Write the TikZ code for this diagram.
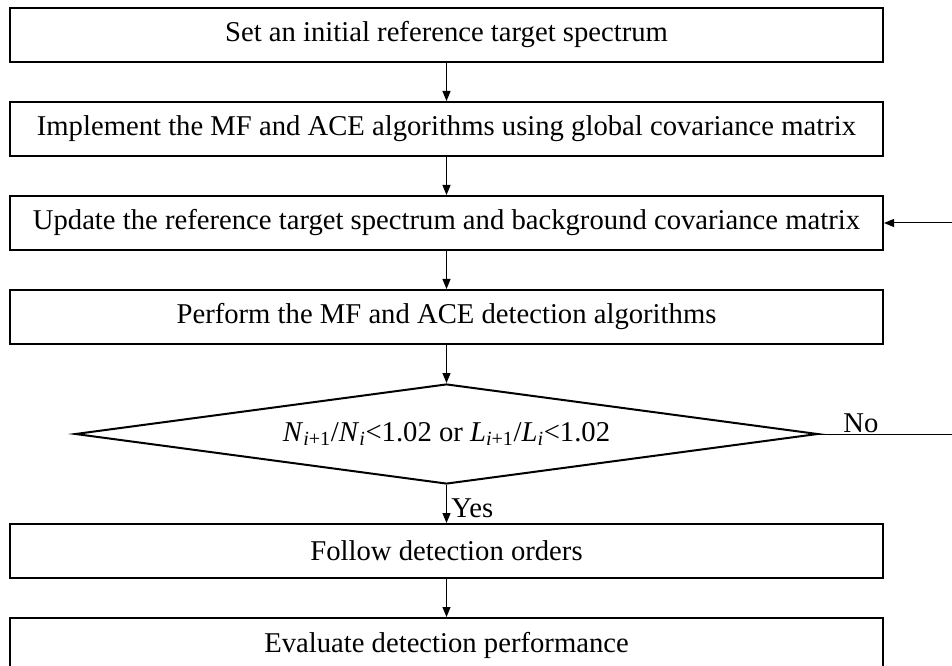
\documentclass[tikz,border=0pt]{standalone}
\usepackage{fontspec}
\setmainfont{Liberation Serif}
\usepackage{tikz}
\usetikzlibrary{shapes,arrows.meta,positioning,calc}

\begin{document}
\begin{tikzpicture}[
    x=0.75pt, y=-0.75pt,
    node distance=28.5pt,
    font=\fontsize{21.5}{24}\selectfont,
    block/.style={rectangle, draw, line width=1.5pt, minimum width=654.75pt, minimum height=40.5pt, inner sep=0pt, text centered},
    decision/.style={diamond, draw, line width=1.5pt, aspect=7.3, minimum width=557pt, minimum height=75pt, inner sep=0pt},
    arrow/.style={-{Triangle[length=7.5pt,width=6pt]}, line width=0.75pt}
]
\useasboundingbox (0,0) rectangle (952,666);
\node[block] (init) at (446.5,35) {Set an initial reference target spectrum};
\node[block, below=of init] (global) {Implement the MF and ACE algorithms using global covariance matrix};
\node[block, below=of global] (update) {Update the reference target spectrum and background covariance matrix};
\node[block, below=of update] (perform) {Perform the MF and ACE detection algorithms};
\node[decision, below=of perform] (check) {\textit{N}\textsubscript{\textit{i}+1}/\textit{N}\textsubscript{\textit{i}}<1.02 or \textit{L}\textsubscript{\textit{i}+1}/\textit{L}\textsubscript{\textit{i}}<1.02};
\node[block, below=of check] (follow) {Follow detection orders};
\node[block, below=of follow] (evaluate) {Evaluate detection performance};
\coordinate (loop) at ($(check.east)+(150,0)$);

\draw[arrow] (init) -- (global);
\draw[arrow] (global) -- (update);
\draw[arrow] (update) -- (perform);
\draw[arrow] (perform) -- (check);
\draw[arrow] (check) -- node[right, pos=0.6] {Yes} (follow);
\draw[arrow] (follow) -- (evaluate);
\draw[arrow] (check.east) -- node[above, pos=0.28, yshift=-3pt] {No} (loop) |- (update.east);
\end{tikzpicture}
\end{document}
